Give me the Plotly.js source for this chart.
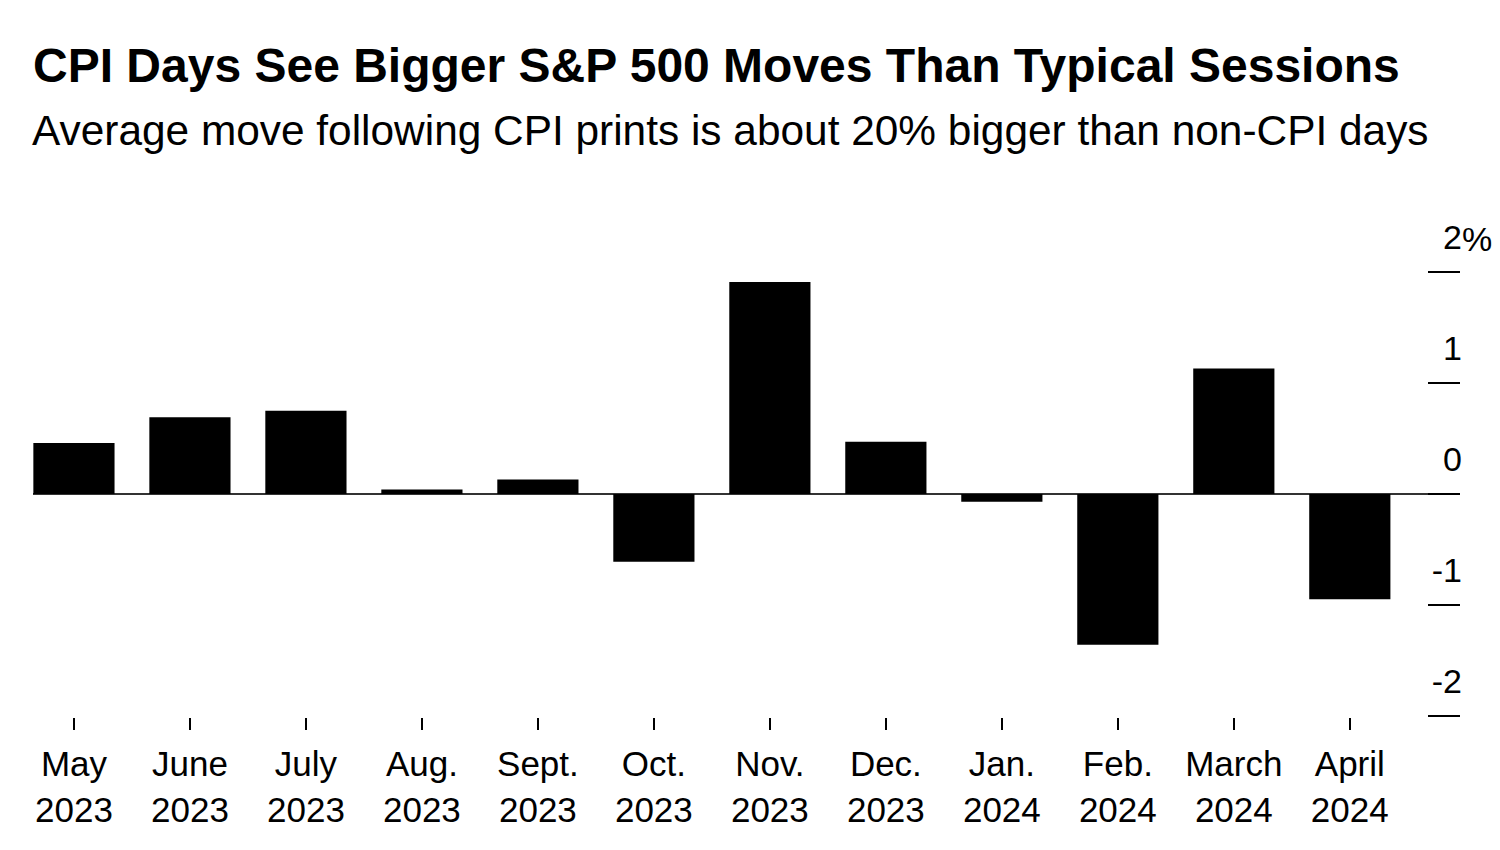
<!DOCTYPE html>
<html>
<head>
<meta charset="utf-8">
<script src="https://cdn.plot.ly/plotly-3.0.1.min.js"></script>
<style>html,body{margin:0;padding:0;background:#fff;}#chart{width:1500px;height:850px;}</style>
</head>
<body>
<div id="chart"></div>
<script>
const months = ["May<br>2023","June<br>2023","July<br>2023","Aug.<br>2023","Sept.<br>2023","Oct.<br>2023","Nov.<br>2023","Dec.<br>2023","Jan.<br>2024","Feb.<br>2024","March<br>2024","April<br>2024"];
const moves = [0.46, 0.69, 0.75, 0.04, 0.13, -0.61, 1.91, 0.47, -0.07, -1.36, 1.13, -0.95];
const yTickVals = [-2, -1, 0, 1, 2];
const yTickText = ["-2", "-1", "0", "1", "2"];
const yUnit = "%";
const titleText = "CPI Days See Bigger S&P 500 Moves Than Typical Sessions";
const subtitleText = "Average move following CPI prints is about 20% bigger than non-CPI days";

const FONT = "Liberation Sans, Arial, Helvetica, sans-serif";

// plot area in pixels
const plotTop = 215, plotBottom = 717;
const plotH = plotBottom - plotTop;

const trace = {
  type: "bar",
  x: months,
  y: moves,
  marker: {color: "#000000", line: {width: 0}},
  hoverinfo: "x+y"
};

const layout = {
  width: 1500,
  height: 850,
  paper_bgcolor: "#ffffff",
  plot_bgcolor: "#ffffff",
  font: {family: FONT, color: "#000000", size: 34},
  margin: {l: 33, r: 40, t: plotTop, b: 850 - plotBottom, pad: 0},
  title: {
    text: "<b>" + titleText + "</b>",
    font: {family: FONT, size: 48, color: "#000000"},
    x: 33 / 1500, xref: "container", xanchor: "left",
    y: 1 - 65 / 850, yref: "container", yanchor: "middle"
  },
  annotations: [{
    text: subtitleText,
    xref: "paper", yref: "paper",
    x: -0.002, xanchor: "left",
    y: (plotBottom - 131) / plotH, yanchor: "middle",
    showarrow: false,
    font: {family: FONT, size: 42.4, color: "#000000"}
  }, {
    text: yUnit,
    xref: "paper", yref: "y",
    x: 1, xanchor: "left",
    y: 2, yanchor: "middle", yshift: 33,
    showarrow: false,
    font: {family: FONT, size: 34, color: "#000000"}
  }],
  bargap: 0.3,
  showlegend: false,
  xaxis: {
    type: "category",
    range: [-0.353, 11.95],
    showgrid: false,
    zeroline: false,
    showline: false,
    ticks: "outside",
    ticklen: 12,
    tickwidth: 2,
    tickcolor: "#000000",
    ticklabelstandoff: 4,
    tickfont: {family: FONT, size: 35, color: "#000000"},
    fixedrange: true
  },
  yaxis: {
    side: "right",
    range: [-2.01, (494 - plotTop) / 111],
    tickvals: yTickVals,
    ticktext: yTickText,
    showgrid: false,
    showline: false,
    zeroline: true,
    zerolinecolor: "#333333",
    zerolinewidth: 2,
    ticks: "inside",
    ticklen: 32,
    tickwidth: 2,
    tickcolor: "#000000",
    ticklabelposition: "inside top",
    ticklabelshift: -10,
    ticklabelstandoff: -5,
    tickfont: {family: FONT, size: 34, color: "#000000"},
    fixedrange: true
  }
};

Plotly.newPlot("chart", [trace], layout, {displayModeBar: false, staticPlot: true});
</script>
</body>
</html>
